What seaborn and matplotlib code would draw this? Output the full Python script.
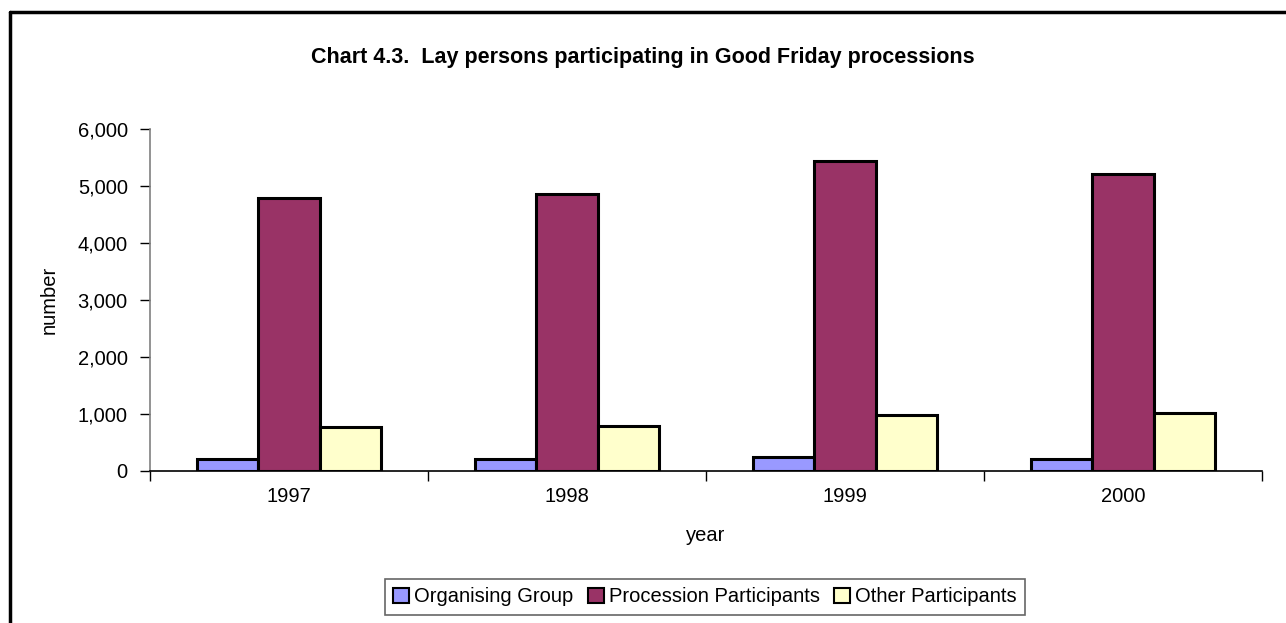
import matplotlib
matplotlib.use("Agg")
import matplotlib.pyplot as plt
from matplotlib.lines import Line2D
from matplotlib.ticker import FuncFormatter, FixedLocator
import seaborn as sns
import pandas as pd

# data
years = ["1997", "1998", "1999", "2000"]
organising = [210, 200, 235, 200]
procession = [4780, 4850, 5435, 5210]
other = [765, 787, 986, 1010]
series_names = ["Organising Group", "Procession Participants", "Other Participants"]
colors = ["#9999FF", "#993366", "#FFFFCC"]

df = pd.DataFrame({
    "year": years * 3,
    "value": organising + procession + other,
    "series": [s for s in series_names for _ in years],
})

sns.set_style("white")
plt.rcParams["font.family"] = ["Liberation Sans", "DejaVu Sans"]
plt.rcParams["text.color"] = "black"
plt.rcParams["axes.labelcolor"] = "black"
plt.rcParams["xtick.color"] = "black"
plt.rcParams["ytick.color"] = "black"

fig = plt.figure(figsize=(12.86, 6.23), dpi=100)
ax = fig.add_axes([150 / 1286, 1 - 470.7 / 623, (1262 - 150) / 1286, (470.7 - 129) / 623])

sns.barplot(data=df, x="year", y="value", hue="series", palette=colors,
            width=0.665, gap=0, edgecolor="black", linewidth=2.2,
            saturation=1, ax=ax, legend=True)

ax.set_xlim(-0.5, 3.5)
ax.set_ylim(0, 6000)
ax.set_yticks(range(0, 6001, 1000))
ax.yaxis.set_major_formatter(FuncFormatter(lambda v, p: f"{int(v):,}"))
ax.tick_params(axis="y", direction="out", length=7, width=1, color="black",
               labelsize=14.5, pad=9, left=True)
ax.tick_params(axis="x", which="major", length=0, labelsize=14.5, pad=12)
ax.xaxis.set_minor_locator(FixedLocator([-0.5, 0.5, 1.5, 2.5, 3.5]))
ax.tick_params(axis="x", which="minor", direction="out", length=7, width=1,
               color="black", bottom=True)

for side in ["top", "right"]:
    ax.spines[side].set_visible(False)
ax.spines["left"].set_color("#808080")
ax.spines["left"].set_linewidth(1.2)
ax.spines["bottom"].set_color("black")
ax.spines["bottom"].set_linewidth(1.2)

ax.set_xlabel("year", fontsize=14.5, labelpad=14)
ax.set_ylabel("number", fontsize=14.5, labelpad=14)

fig.text(0.5, 1 - 57 / 623, "Chart 4.3.  Lay persons participating in Good Friday processions",
         ha="center", va="center", fontsize=15.5, fontweight="bold")

handles, labels = ax.get_legend_handles_labels()
ax.get_legend().remove()
leg = fig.legend(handles, labels, loc="center", bbox_to_anchor=(705 / 1286, 1 - 597 / 623),
                 ncol=3, fontsize=14.5, frameon=True, fancybox=False,
                 handlelength=0.8, handleheight=0.8, handletextpad=0.25,
                 columnspacing=0.7, borderpad=0.4, borderaxespad=0)
leg.get_frame().set_edgecolor("#404040")
leg.get_frame().set_linewidth(1.2)
for h in leg.legend_handles:
    h.set_edgecolor("black")
    h.set_linewidth(1.5)

# outer chart frame (left and top edges visible)
fig.add_artist(Line2D([9.5 / 1286, 9.5 / 1286], [0, 1 - 12 / 623], transform=fig.transFigure,
                      color="black", linewidth=2.5))
fig.add_artist(Line2D([9.5 / 1286, 1], [1 - 12 / 623, 1 - 12 / 623], transform=fig.transFigure,
                      color="black", linewidth=2.5))

fig.savefig("out.png", dpi=100)
